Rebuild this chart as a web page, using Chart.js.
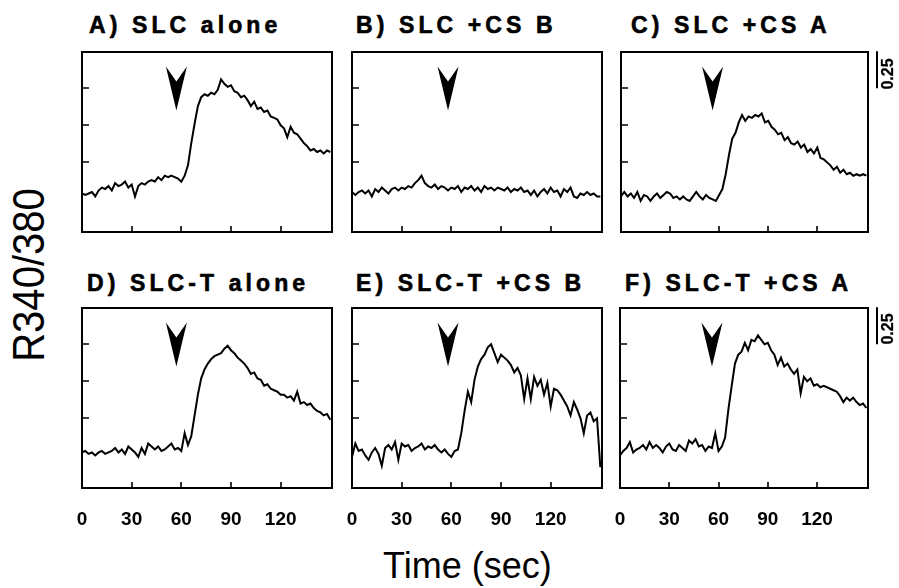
<!DOCTYPE html>
<html>
<head>
<meta charset="utf-8">
<script src="https://cdn.jsdelivr.net/npm/chart.js@4.4.1/dist/chart.umd.min.js"></script>
<style>
html,body{margin:0;padding:0;background:#fff;}
#wrap{position:relative;width:899px;height:588px;overflow:hidden;background:#fff;font-family:'Liberation Sans',Arial,Helvetica,sans-serif;color:#000;}
#wrap canvas{position:absolute;}
.title{position:absolute;font-weight:bold;font-size:23px;line-height:23px;letter-spacing:4.1px;white-space:nowrap;-webkit-text-stroke:0.6px #000;}
.ylab{position:absolute;left:29px;top:275px;font-size:44px;line-height:44px;white-space:nowrap;transform:translate(-50%,-50%) rotate(-90deg) scaleX(0.91);}
.xlab{position:absolute;left:383px;top:548px;font-size:36px;line-height:36px;white-space:nowrap;}
.bar{position:absolute;font-weight:bold;font-size:16px;line-height:16px;white-space:nowrap;transform:translate(-50%,-50%) rotate(-90deg);-webkit-text-stroke:0.3px #000;}
</style>
</head>
<body>
<div id="wrap"></div>
<script>
// ---------------- DATA ----------------
const time = [0,2,4,6,8,10,12,14,16,18,20,22,24,26,28,30,32,34,36,38,40,42,44,46,48,50,52,54,56,58,
  60,62,64,66,68,70,72,74,76,78,80,82,84,86,88,90,92,94,96,98,100,102,104,106,108,110,112,114,116,118,
  120,122,124,126,128,130,132,134,136,138,140,142,144,146,148,150];

const panelTitles = ["A) SLC alone","B) SLC +CS B","C) SLC +CS A","D) SLC-T alone","E) SLC-T +CS B","F) SLC-T +CS A"];

const slcAlone = [0.29,0.28,0.29,0.30,0.27,0.31,0.33,0.32,0.34,0.31,
  0.36,0.34,0.35,0.37,0.33,0.35,0.27,0.34,0.36,0.35,
  0.37,0.38,0.37,0.40,0.38,0.41,0.40,0.41,0.40,0.39,
  0.37,0.41,0.48,0.63,0.76,0.88,0.94,0.96,0.95,0.97,
  0.96,0.99,1.06,1.03,1.01,1.02,0.98,0.97,0.94,0.95,
  0.92,0.88,0.91,0.86,0.87,0.84,0.85,0.81,0.80,0.79,
  0.75,0.73,0.67,0.74,0.70,0.69,0.66,0.63,0.61,0.58,
  0.59,0.57,0.58,0.56,0.58,0.57];

const slcCsB = [0.30,0.28,0.30,0.31,0.29,0.31,0.27,0.32,0.30,0.33,
  0.31,0.29,0.32,0.33,0.31,0.33,0.32,0.34,0.33,0.36,
  0.38,0.41,0.36,0.34,0.33,0.35,0.32,0.34,0.33,0.31,
  0.33,0.32,0.34,0.30,0.33,0.32,0.34,0.31,0.33,0.30,
  0.34,0.32,0.33,0.31,0.33,0.32,0.31,0.33,0.30,0.32,
  0.31,0.33,0.30,0.31,0.28,0.31,0.27,0.30,0.32,0.29,
  0.33,0.30,0.31,0.27,0.32,0.30,0.33,0.27,0.26,0.29,
  0.28,0.30,0.28,0.29,0.27,0.27];

const slcCsA = [0.27,0.30,0.27,0.29,0.26,0.30,0.24,0.28,0.27,0.24,
  0.27,0.29,0.26,0.28,0.30,0.29,0.26,0.27,0.25,0.27,
  0.25,0.24,0.27,0.30,0.27,0.25,0.28,0.26,0.25,0.24,
  0.28,0.32,0.42,0.55,0.66,0.70,0.77,0.82,0.78,0.81,
  0.80,0.82,0.81,0.83,0.77,0.78,0.74,0.72,0.69,0.70,
  0.65,0.67,0.63,0.62,0.64,0.60,0.62,0.57,0.59,0.56,
  0.60,0.53,0.52,0.50,0.48,0.45,0.47,0.43,0.45,0.42,
  0.43,0.41,0.42,0.41,0.42,0.41];

const slctAlone = [0.27,0.28,0.26,0.27,0.25,0.27,0.28,0.26,0.27,0.28,
  0.30,0.27,0.29,0.26,0.31,0.29,0.27,0.24,0.30,0.26,
  0.33,0.31,0.29,0.31,0.28,0.29,0.31,0.33,0.29,0.30,
  0.28,0.40,0.32,0.38,0.52,0.66,0.77,0.83,0.87,0.90,
  0.92,0.93,0.94,0.97,0.99,0.96,0.94,0.91,0.89,0.87,
  0.84,0.80,0.81,0.77,0.76,0.72,0.73,0.70,0.69,0.68,
  0.66,0.66,0.64,0.65,0.62,0.68,0.60,0.61,0.59,0.60,
  0.57,0.55,0.54,0.52,0.53,0.49];

const slctCsB = [0.24,0.33,0.28,0.29,0.25,0.22,0.27,0.30,0.26,0.18,
  0.30,0.32,0.29,0.34,0.22,0.33,0.31,0.32,0.28,0.30,
  0.31,0.33,0.29,0.31,0.30,0.32,0.29,0.27,0.29,0.26,
  0.24,0.28,0.29,0.40,0.55,0.68,0.61,0.76,0.85,0.90,
  0.93,0.98,1.00,0.94,0.88,0.93,0.91,0.89,0.86,0.81,
  0.84,0.79,0.63,0.77,0.63,0.78,0.72,0.76,0.66,0.74,
  0.58,0.70,0.69,0.66,0.62,0.58,0.52,0.61,0.56,0.50,
  0.40,0.52,0.54,0.48,0.50,0.17];

const slctCsA = [0.25,0.28,0.30,0.34,0.27,0.29,0.30,0.32,0.29,0.34,
  0.30,0.32,0.30,0.27,0.31,0.33,0.29,0.28,0.32,0.30,
  0.28,0.35,0.33,0.36,0.31,0.32,0.28,0.31,0.30,0.40,
  0.28,0.31,0.37,0.56,0.72,0.87,0.93,0.95,1.01,0.96,
  1.03,1.02,1.06,1.03,1.00,1.01,0.96,0.93,0.86,0.91,
  0.85,0.87,0.83,0.80,0.83,0.67,0.78,0.75,0.77,0.72,
  0.73,0.71,0.72,0.71,0.70,0.69,0.68,0.65,0.61,0.64,
  0.62,0.64,0.61,0.59,0.60,0.57];

const series = [slcAlone, slcCsB, slcCsA, slctAlone, slctCsB, slctCsA];

// stimulus (arrowhead) time per panel, and the level of its tip
const stimulusTimes = [57, 58, 56, 57, 58, 56];
const arrowTipLevel = 0.85;

const xTickLabels = [0, 30, 60, 90, 120];
const xTickMarks = [30, 60, 90, 120];
const yTickMarks = [0.5, 0.75, 1.0];
const scaleBarSize = 0.25;
const scaleBarTop = 1.25;

// ---------------- LAYOUT ----------------
const X_MIN = 0, X_MAX = 151, Y_MIN = 0.03, Y_MAX = 1.245;
const boxes = [
  {l:82, t:52, r:332, b:232, row:0},
  {l:352, t:52, r:602, b:232, row:0},
  {l:621, t:52, r:868, b:232, row:0, bar:true},
  {l:82, t:308, r:332, b:488, row:1},
  {l:352, t:308, r:602, b:488, row:1},
  {l:620, t:308, r:868, b:488, row:1, bar:true}
];
const titlePos = [[89,14],[356,14],[631,14],[87,272],[356,272],[625,272]];

const wrap = document.getElementById('wrap');

const decor = {
  id: 'panelDecor',
  afterDatasetsDraw(chart, args, opts) {
    const {ctx, chartArea: a, scales: {x, y}} = chart;
    ctx.save();
    ctx.strokeStyle = '#000';
    ctx.fillStyle = '#000';
    ctx.lineWidth = 2;
    ctx.strokeRect(a.left, a.top, a.right - a.left, a.bottom - a.top);
    ctx.lineWidth = 1.6;
    ctx.beginPath();
    yTickMarks.forEach(v => {
      const py = Math.round(y.getPixelForValue(v));
      ctx.moveTo(a.left, py); ctx.lineTo(a.left + 7, py);
    });
    xTickMarks.forEach(v => {
      const px = Math.round(x.getPixelForValue(v));
      ctx.moveTo(px, a.bottom); ctx.lineTo(px, a.bottom - 6);
    });
    ctx.stroke();
    // arrowhead marking stimulus
    const cx = x.getPixelForValue(opts.arrowT);
    const ty = y.getPixelForValue(arrowTipLevel);
    ctx.beginPath();
    ctx.moveTo(cx, ty);
    ctx.lineTo(cx - 10.5, ty - 44);
    ctx.lineTo(cx, ty - 29);
    ctx.lineTo(cx + 10.5, ty - 44);
    ctx.closePath();
    ctx.fill();
    // scale bar
    if (opts.bar) {
      const px = a.right + 9;
      ctx.lineWidth = 2;
      ctx.beginPath();
      ctx.moveTo(px, y.getPixelForValue(scaleBarTop));
      ctx.lineTo(px, y.getPixelForValue(scaleBarTop - scaleBarSize));
      ctx.stroke();
    }
    ctx.restore();
  }
};

boxes.forEach((bx, i) => {
  const padL = 8, padT = 4, padR = bx.bar ? 30 : 8;
  const axisH = bx.row === 1 ? 42 : 0;
  const padB = bx.row === 1 ? 0 : 4;
  const w = (bx.r - bx.l) + padL + padR;
  const h = (bx.b - bx.t) + padT + padB + axisH;
  const cv = document.createElement('canvas');
  cv.width = w; cv.height = h;
  cv.style.left = (bx.l - padL) + 'px';
  cv.style.top = (bx.t - padT) + 'px';
  cv.style.width = w + 'px'; cv.style.height = h + 'px';
  wrap.appendChild(cv);

  new Chart(cv, {
    type: 'line',
    data: {
      labels: time,
      datasets: [{
        data: time.map((t, k) => ({x: t, y: series[i][k]})),
        borderColor: '#000',
        borderWidth: 2,
        pointRadius: 0,
        tension: 0,
        fill: false
      }]
    },
    options: {
      responsive: false,
      animation: false,
      devicePixelRatio: 1,
      layout: {padding: {left: padL, top: padT, right: padR, bottom: padB}},
      plugins: {
        legend: {display: false},
        tooltip: {enabled: false},
        title: {display: false},
        panelDecor: {arrowT: stimulusTimes[i], bar: !!bx.bar}
      },
      scales: {
        x: {
          type: 'linear',
          min: X_MIN, max: X_MAX,
          display: bx.row === 1,
          afterBuildTicks: ax => { ax.ticks = xTickLabels.map(v => ({value: v})); },
          afterFit: ax => { ax.height = axisH; ax.paddingLeft = 0; ax.paddingRight = 0; },
          grid: {display: false, drawTicks: false},
          border: {display: false},
          ticks: {
            autoSkip: false, maxRotation: 0, minRotation: 0, padding: 20,
            color: '#000',
            font: {family: "'Liberation Sans', Arial, sans-serif", size: 19, weight: 'bold'}
          }
        },
        y: {
          type: 'linear',
          min: Y_MIN, max: Y_MAX,
          display: false
        }
      }
    },
    plugins: [decor]
  });

  const tt = document.createElement('div');
  tt.className = 'title';
  tt.textContent = panelTitles[i];
  tt.style.left = titlePos[i][0] + 'px';
  tt.style.top = titlePos[i][1] + 'px';
  wrap.appendChild(tt);
});

const yl = document.createElement('div');
yl.className = 'ylab'; yl.textContent = 'R340/380';
wrap.appendChild(yl);
const xl = document.createElement('div');
xl.className = 'xlab'; xl.textContent = 'Time (sec)';
wrap.appendChild(xl);
[[888, 73.5], [888, 329]].forEach(p => {
  const d = document.createElement('div');
  d.className = 'bar'; d.textContent = String(scaleBarSize);
  d.style.left = p[0] + 'px'; d.style.top = p[1] + 'px';
  wrap.appendChild(d);
});
</script>
</body>
</html>
